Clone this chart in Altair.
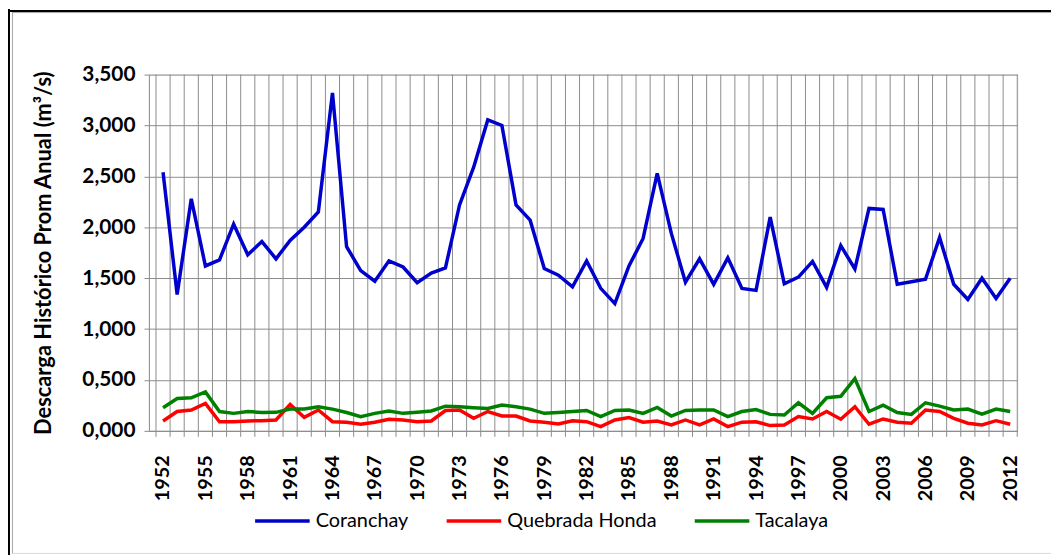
import altair as alt
import pandas as pd

years = list(range(1952, 2013))
coranchay = [2.54, 1.34, 2.28, 1.62, 1.68, 2.03, 1.73, 1.86, 1.69, 1.87,
             2.00, 2.15, 3.32, 1.81, 1.575, 1.47, 1.67, 1.61, 1.455, 1.55,
             1.60, 2.22, 2.59, 3.055, 3.00, 2.22, 2.07, 1.595, 1.53, 1.415,
             1.67, 1.40, 1.25, 1.62, 1.89, 2.53, 1.94, 1.46, 1.69, 1.44,
             1.70, 1.40, 1.38, 2.10, 1.445, 1.51, 1.665, 1.41, 1.82, 1.59,
             2.185, 2.175, 1.44, 1.465, 1.49, 1.90, 1.44, 1.29, 1.50, 1.30,
             1.50]
quebrada = [0.097, 0.19, 0.205, 0.27, 0.09, 0.09, 0.097, 0.10, 0.107, 0.26,
            0.133, 0.205, 0.09, 0.085, 0.065, 0.085, 0.114, 0.107, 0.09, 0.097,
            0.20, 0.205, 0.123, 0.19, 0.146, 0.146, 0.097, 0.085, 0.068, 0.10,
            0.09, 0.042, 0.107, 0.13, 0.085, 0.097, 0.058, 0.107, 0.058, 0.117,
            0.042, 0.085, 0.09, 0.052, 0.058, 0.14, 0.117, 0.19, 0.114, 0.237,
            0.065, 0.117, 0.085, 0.075, 0.205, 0.19, 0.123, 0.075, 0.058, 0.10,
            0.065]
tacalaya = [0.227, 0.318, 0.325, 0.383, 0.19, 0.172, 0.19, 0.18, 0.182, 0.214,
            0.214, 0.237, 0.214, 0.18, 0.14, 0.172, 0.195, 0.172, 0.182, 0.195,
            0.243, 0.237, 0.227, 0.22, 0.253, 0.237, 0.214, 0.172, 0.18, 0.19,
            0.20, 0.14, 0.20, 0.205, 0.172, 0.23, 0.146, 0.20, 0.205, 0.205,
            0.14, 0.19, 0.21, 0.162, 0.156, 0.276, 0.172, 0.325, 0.34, 0.513,
            0.19, 0.253, 0.18, 0.162, 0.276, 0.243, 0.205, 0.214, 0.165, 0.214,
            0.19]

series_names = ["Coranchay", "Quebrada Honda", "Tacalaya"]
series_colors = ["#0000CC", "#FF0000", "#008000"]
label_years = list(range(1952, 2013, 3))
grid_years = [y + 0.5 for y in range(1951, 2013)]
y_ticks = [0, 0.5, 1.0, 1.5, 2.0, 2.5, 3.0, 3.5]

rows = []
for name, vals in zip(series_names, [coranchay, quebrada, tacalaya]):
    for yr, v in zip(years, vals):
        rows.append({"year": yr, "value": v, "series": name})
df = pd.DataFrame(rows)
grid_df = pd.DataFrame({"year": grid_years})
one = pd.DataFrame({"a": [0]})

W, H = 875, 359
GRID = "#8c8c8c"
xscale = alt.Scale(domain=[1951, 2012.5], nice=False, zero=False)
yscale = alt.Scale(domain=[0, 3.5], nice=False, zero=True)

x_axis = alt.Axis(values=label_years, format="d", labelAngle=-90,
                  labelAlign="right", labelBaseline="middle",
                  labelFont="Lato", labelFontSize=20, labelFontWeight="bold",
                  labelColor="black", labelPadding=24, grid=False, ticks=False,
                  domain=True, domainColor=GRID, title=None,
                  labelOverlap=False, labelFlush=False)

vgrid = alt.Chart(grid_df).mark_rule(color=GRID, strokeWidth=1).encode(
    x=alt.X("year:Q", scale=xscale, axis=x_axis)
)
xticks = alt.Chart(grid_df).mark_rule(color=GRID, strokeWidth=1).encode(
    x=alt.X("year:Q", scale=xscale, axis=x_axis),
    y=alt.value(H),
    y2=alt.value(H + 6),
)

lines = alt.Chart(df).mark_line(strokeWidth=3.5).encode(
    x=alt.X("year:Q", scale=xscale, axis=x_axis),
    y=alt.Y("value:Q", scale=yscale,
            axis=alt.Axis(values=y_ticks,
                          labelExpr="replace(format(datum.value, '.3f'), '.', ',')",
                          labelFont="Lato", labelFontSize=21, labelFontWeight="bold",
                          labelColor="black", labelPadding=9, grid=True, gridColor=GRID,
                          gridWidth=1, ticks=True, tickSize=5, tickColor=GRID,
                          domain=True, domainColor=GRID,
                          title="Descarga Histórico Prom Anual (m³/s)",
                          titleFont="Lato", titleFontSize=22, titleFontWeight="bold",
                          titleColor="black", titleX=-106, titleY=H / 2,
                          titleAngle=-90, titleAlign="center", titleBaseline="middle",
                          labelOverlap=False, labelFlush=False)),
    color=alt.Color("series:N",
                    scale=alt.Scale(domain=series_names, range=series_colors),
                    legend=alt.Legend(orient="none", legendX=105, legendY=420,
                                      direction="horizontal", title=None,
                                      symbolType="stroke", symbolSize=3025,
                                      symbolStrokeWidth=3.5, labelFont="Lato",
                                      labelFontSize=20, labelColor="black",
                                      labelOffset=4, columnPadding=31)),
)

frame_black_left = alt.Chart(one).mark_rule(color="black", strokeWidth=2).encode(
    x=alt.value(-141), y=alt.value(-66), y2=alt.value(484))
frame_black_top = alt.Chart(one).mark_rule(color="black", strokeWidth=2).encode(
    x=alt.value(-142), x2=alt.value(910), y=alt.value(-64))
frame_gray_left = alt.Chart(one).mark_rule(color="#a6a6a6", strokeWidth=1).encode(
    x=alt.value(-137.5), y=alt.value(-62.5), y2=alt.value(483))
frame_gray_top = alt.Chart(one).mark_rule(color="#a6a6a6", strokeWidth=1).encode(
    x=alt.value(-138), x2=alt.value(910), y=alt.value(-62.5))
frame_gray_bottom = alt.Chart(one).mark_rule(color="#d9d9d9", strokeWidth=1).encode(
    x=alt.value(-138), x2=alt.value(910), y=alt.value(482.5))

chart = alt.layer(
    vgrid, xticks, frame_black_left, frame_black_top, frame_gray_left,
    frame_gray_top, frame_gray_bottom, lines
).properties(
    width=W, height=H,
    autosize=alt.AutoSizeParams(type="none"),
    padding={"left": 142, "top": 65, "right": 34, "bottom": 125},
).configure_view(stroke=None).configure(background="white")

chart.save("out.html", embed_options={"renderer": "svg", "actions": False})
